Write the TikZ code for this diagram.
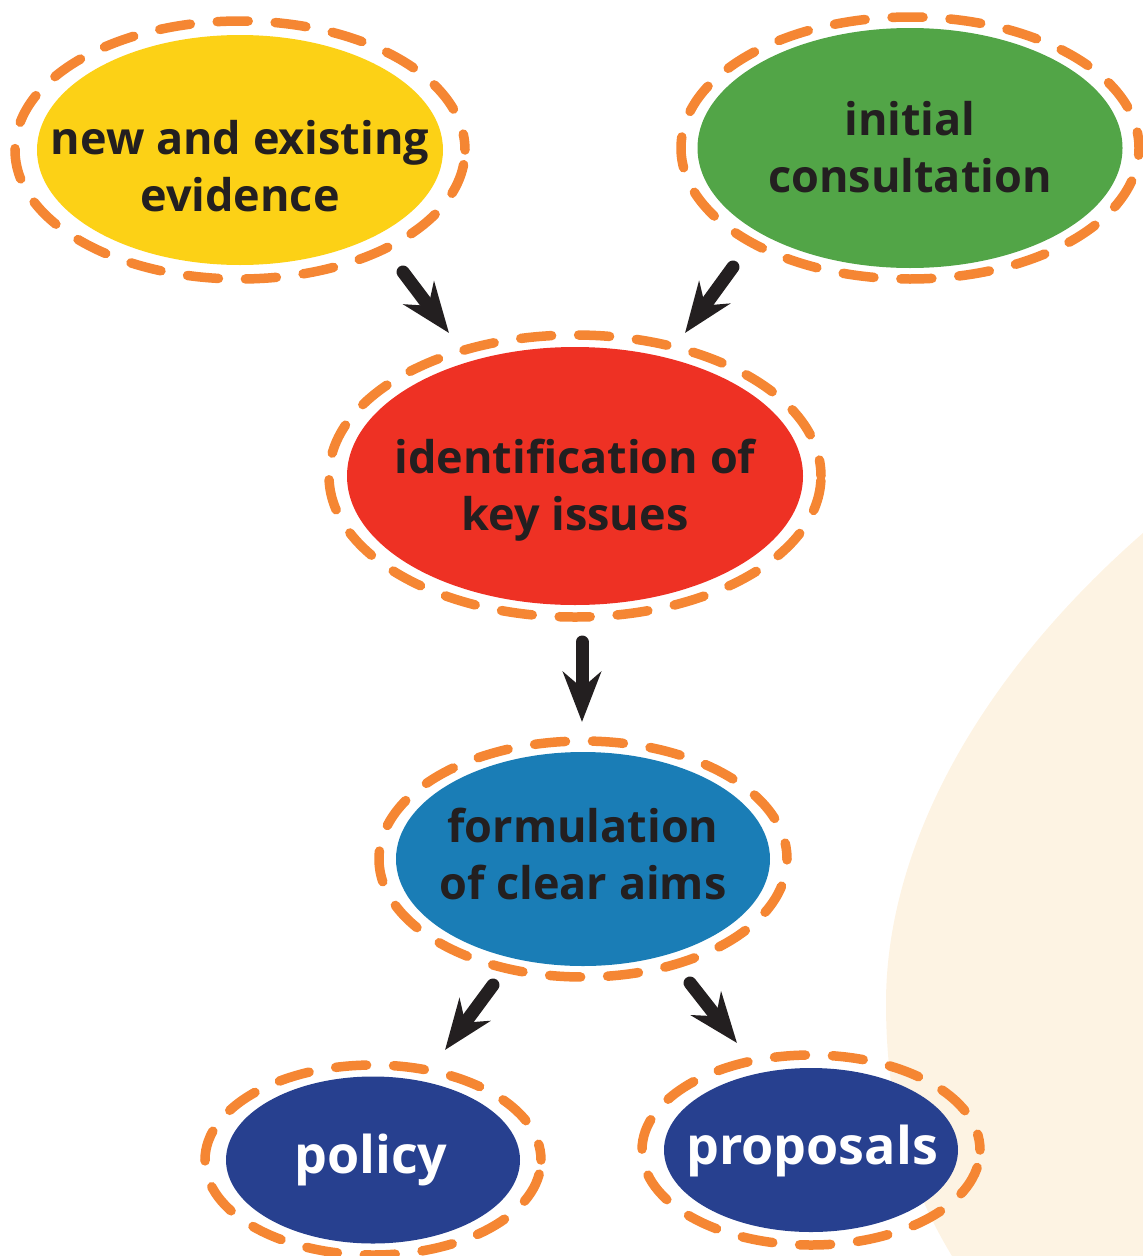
\documentclass[tikz,border=0pt]{standalone}
\usepackage{fontspec}
\setmainfont{Open Sans}
\usetikzlibrary{shapes.geometric,arrows.meta,calc}
\definecolor{cyellow}{RGB}{252,209,22}
\definecolor{cgreen}{RGB}{82,165,71}
\definecolor{cred}{RGB}{238,49,36}
\definecolor{cblue}{RGB}{26,125,182}
\definecolor{cnavy}{RGB}{39,64,143}
\definecolor{corange}{RGB}{245,134,51}
\definecolor{ctext}{RGB}{35,31,32}
\definecolor{cbeige}{RGB}{253,243,227}
\tikzset{
  bubble/.style={ellipse, inner sep=0pt, outer sep=0pt},
  txt/.style={inner sep=0pt, text=ctext, align=center,
    font=\fontsize{45}{57}\selectfont\bfseries},
  txtw/.style={inner sep=0pt, text=white, font=\fontsize{52}{60}\selectfont\bfseries},
  ring/.style={draw=corange, line width=9.5pt, line cap=round,
    dash pattern=on 31pt off 27pt, dash phase=15pt},
  arr/.style={draw=ctext, line width=13pt, line cap=round,
    -{Stealth[length=50pt, width=38pt, inset=16pt]}},
}
\begin{document}
\begin{tikzpicture}[x=1pt,y=-1pt]
\useasboundingbox (0,0) rectangle (1143,1256);
% background shape
\fill[cbeige] (1143,533) .. controls (975,680) and (886,850) .. (886,1003)
  .. controls (886,1120) and (915,1195) .. (952,1256) -- (1143,1256) -- cycle;
% bubbles
\node[bubble, fill=cyellow, minimum width=406pt, minimum height=230pt] (yel) at (240,150) {};
\draw[ring] (yel.center) ellipse [x radius=225pt, y radius=129pt];
\node[txt] (yelT) at ($(yel.center)+(0,16)$) {new and existing\\evidence};

\node[bubble, fill=cgreen, minimum width=425pt, minimum height=240pt] (grn) at (910,148) {};
\draw[ring] (grn.center) ellipse [x radius=229pt, y radius=131pt];
\node[txt] (grnT) at ($(grn.center)+(0,-1)$) {initial\\consultation};

\node[bubble, fill=cred, minimum width=456pt, minimum height=258pt] (red) at (575,476) {};
\draw[ring] (red.center) ellipse [x radius=246pt, y radius=141pt];
\node[txt] (redT) at ($(red.center)+(0,14)$) {identification of\\key issues};

\node[bubble, fill=cblue, minimum width=374pt, minimum height=214pt] (blu) at (583,859) {};
\draw[ring] (blu.center) ellipse [x radius=204pt, y radius=118pt];
\node[txt] (bluT) at ($(blu.center)+(0,-5)$) {formulation\\of clear aims};

\node[bubble, fill=cnavy, minimum width=294pt, minimum height=167pt] (pol) at (373,1160) {};
\draw[ring] (pol.center) ellipse [x radius=168pt, y radius=95pt];
\node[txtw] (polT) at ($(pol.center)+(-2,0)$) {policy};

\node[bubble, fill=cnavy, minimum width=294pt, minimum height=164pt] (pro) at (811,1150) {};
\draw[ring] (pro.center) ellipse [x radius=169pt, y radius=95pt];
\node[txtw] (proT) at ($(pro.center)+(1,1)$) {proposals};
% arrows
\draw[arr] ($(yel.center)+(163,122)$) -- ($(red.center)+(-126,-143)$);
\draw[arr] ($(grn.center)+(-177,119)$) -- ($(red.center)+(110,-143)$);
\draw[arr] ($(red.center)+(7,166)$) -- ($(blu.center)+(-1,-137)$);
\draw[arr] ($(blu.center)+(-90,126)$) -- ($(pol.center)+(72,-110)$);
\draw[arr] ($(blu.center)+(107,124)$) -- ($(pro.center)+(-74,-107)$);
\end{tikzpicture}
\end{document}
